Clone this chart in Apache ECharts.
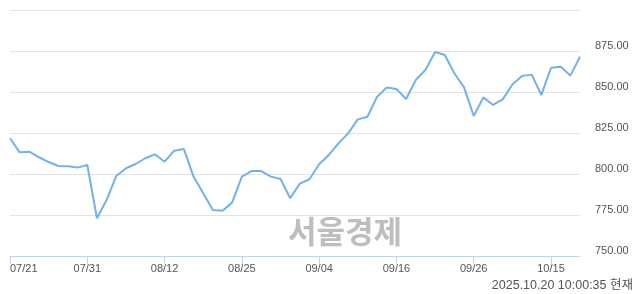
<!DOCTYPE html>
<html>
<head>
<meta charset="utf-8">
<script src="https://cdn.jsdelivr.net/npm/echarts@6/dist/echarts.min.js"></script>
<style>
html,body{margin:0;padding:0;background:#fff;}
#c{width:640px;height:294px;}
</style>
</head>
<body>
<div id="c"></div>
<script>
const categories = [
  '07/21','07/22','07/23','07/24','07/25','07/28','07/29','07/30','07/31',
  '08/01','08/04','08/05','08/06','08/07','08/08','08/11','08/12','08/13','08/14',
  '08/18','08/19','08/20','08/21','08/22','08/25','08/26','08/27','08/28','08/29',
  '09/01','09/02','09/03','09/04','09/05','09/08','09/09','09/10','09/11','09/12',
  '09/15','09/16','09/17','09/18','09/19','09/22','09/23','09/24','09/25','09/26',
  '09/29','09/30','10/01','10/02','10/10','10/13','10/14','10/15','10/16','10/17','10/20'
];
const values = [
  821.8, 813.2, 813.6, 810.2, 807.3, 804.9, 804.7, 803.9, 805.5,
  773.0, 784.1, 798.8, 803.5, 806.1, 809.6, 812.0, 807.5, 814.2, 815.2,
  798.4, 788.2, 778.0, 777.6, 782.7, 798.4, 801.8, 801.8, 798.4, 797.0,
  785.2, 794.1, 796.8, 805.9, 811.6, 818.7, 824.8, 833.3, 834.9, 847.1,
  852.8, 851.8, 845.7, 857.3, 863.4, 874.4, 872.6, 861.4, 852.8, 835.4,
  846.7, 842.1, 845.5, 854.6, 859.8, 860.6, 848.2, 864.8, 865.4, 860.0, 871.5
];
const yMin = 750, yMax = 900, yStep = 25;
const watermark = '서울경제';
const timestamp = '2025.10.20 10:00:35 현재';

const chart = echarts.init(document.getElementById('c'), null, {renderer: 'canvas'});
chart.setOption({
  animation: false,
  grid: {left: 10, right: 60, top: 10, bottom: 38},
  xAxis: {
    type: 'category',
    data: categories,
    boundaryGap: false,
    axisLine: {show: true, lineStyle: {color: '#c6d4ea', width: 1}},
    axisTick: {show: true, interval: 7, length: 8, lineStyle: {color: '#c6d4ea'}},
    axisLabel: {
      interval: 7, margin: 7, color: '#555555',
      fontFamily: 'Liberation Sans, Arial, sans-serif', fontSize: 11,
      alignMinLabel: 'left'
    },
    splitLine: {show: false}
  },
  yAxis: {
    type: 'value',
    position: 'right',
    min: yMin, max: yMax, interval: yStep,
    axisLine: {show: false},
    axisTick: {show: false},
    axisLabel: {
      showMaxLabel: false,
      margin: 15, color: '#555555', verticalAlign: 'bottom',
      fontFamily: 'Liberation Sans, Arial, sans-serif', fontSize: 11,
      formatter: v => v.toFixed(2)
    },
    splitLine: {show: true, lineStyle: {color: '#e3e3e3', width: 1}}
  },
  graphic: [
    {
      type: 'text', left: 288, top: 216, z: 0,
      style: {text: watermark, fill: '#bebebe', font: 'bold 31px "Noto Sans CJK KR", sans-serif'}
    },
    {
      type: 'text', right: 7, top: 279,
      style: {text: timestamp, fill: '#555555', font: '12.5px "Liberation Sans", "Noto Sans CJK KR", sans-serif'}
    }
  ],
  series: [{
    type: 'line',
    data: values,
    symbol: 'none',
    lineStyle: {color: '#74b0ea', width: 2},
    z: 3
  }]
});
</script>
</body>
</html>
